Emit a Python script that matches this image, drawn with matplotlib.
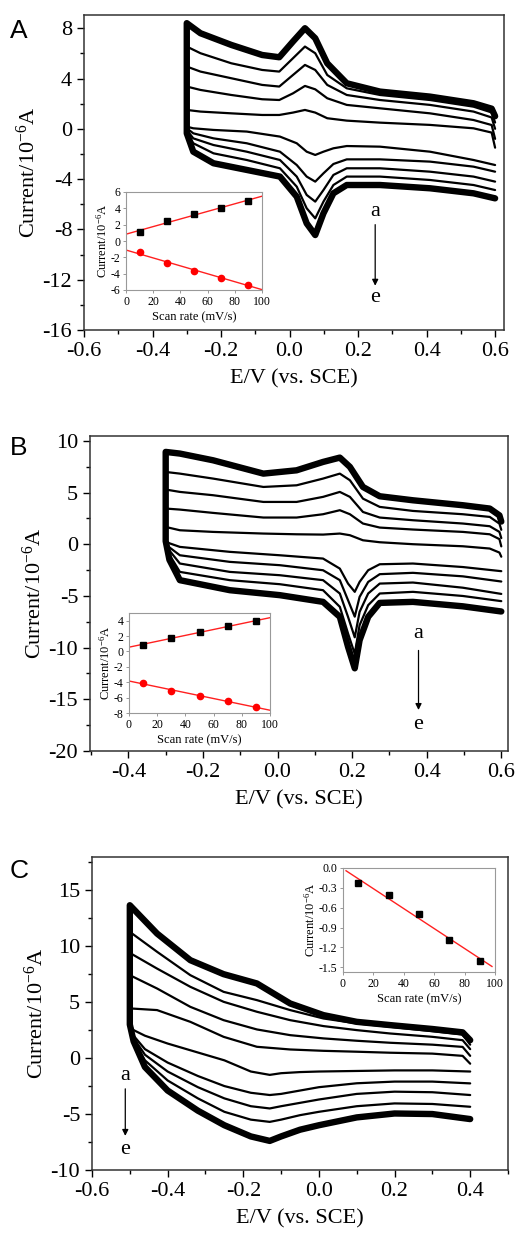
import numpy as np
import matplotlib
matplotlib.use("Agg")
import matplotlib.pyplot as plt
from matplotlib.ticker import MultipleLocator, FormatStrFormatter

plt.rcParams['font.family'] = ['Liberation Serif', 'DejaVu Serif']
plt.rcParams['axes.unicode_minus'] = False
plt.rcParams['mathtext.fontset'] = 'custom'
plt.rcParams['mathtext.rm'] = 'Liberation Serif'
plt.rcParams['mathtext.it'] = 'Liberation Serif:italic'

W, H = 517, 1239

# ---------------- Panel A: CV curves a..e (upper = anodic, lower = cathodic)
A_E_UP = [-0.30, -0.26, -0.17, -0.08, -0.03, 0.01, 0.045, 0.075, 0.11, 0.167, 0.264, 0.41, 0.537, 0.59, 0.60]
A_UP = [
    [1.50, 1.37, 1.23, 1.10, 1.10, 1.29, 1.50, 1.29, 0.84, 0.65, 0.49, 0.31, 0.04, -0.30, -1.50],
    [3.36, 3.09, 2.69, 2.35, 2.29, 2.82, 3.41, 3.14, 2.43, 1.90, 1.63, 1.23, 0.70, 0.30, -0.80],
    [4.95, 4.55, 4.02, 3.49, 3.36, 4.28, 5.08, 4.68, 3.49, 2.69, 2.29, 1.90, 1.37, 0.90, 0.00],
    [6.54, 6.01, 5.21, 4.68, 4.55, 5.61, 6.54, 6.01, 4.28, 3.22, 2.69, 2.29, 1.76, 1.30, 0.50],
    [8.40, 7.60, 6.67, 5.87, 5.69, 6.94, 8.00, 7.20, 5.21, 3.62, 2.96, 2.56, 2.03, 1.60, 1.00],
]
A_E_DN = [0.60, 0.537, 0.41, 0.264, 0.167, 0.128, 0.099, 0.075, 0.05, 0.021, -0.028, -0.125, -0.222, -0.281, -0.30]
A_DN = [
    [-2.88, -2.48, -1.82, -1.42, -1.37, -1.55, -1.82, -2.08, -1.82, -1.15, -0.62, -0.22, -0.09, 0.04, 0.17],
    [-3.41, -3.01, -2.61, -2.43, -2.43, -2.80, -3.54, -4.20, -3.80, -2.88, -1.82, -1.15, -0.76, -0.36, 0.04],
    [-4.20, -3.80, -3.41, -3.14, -3.14, -3.67, -4.87, -5.79, -5.26, -3.80, -2.48, -1.82, -1.29, -0.76, -0.09],
    [-4.87, -4.47, -4.07, -3.80, -3.80, -4.47, -5.79, -7.12, -6.32, -4.60, -3.14, -2.48, -1.95, -1.15, -0.22],
    [-5.53, -5.13, -4.73, -4.47, -4.47, -5.13, -6.72, -8.45, -7.52, -5.40, -3.80, -3.27, -2.74, -1.82, -0.36],
]

# ---------------- Panel B
B_E_UP = [-0.30, -0.262, -0.173, -0.038, 0.051, 0.122, 0.167, 0.194, 0.229, 0.274, 0.363, 0.497, 0.569, 0.595, 0.60]
B_UP = [
    [1.68, 1.36, 1.20, 1.04, 0.97, 0.94, 1.04, 0.88, 0.39, 0.20, 0.01, -0.19, -0.41, -0.80, -1.20],
    [3.46, 3.36, 3.04, 2.59, 2.59, 2.91, 3.30, 2.91, 2.01, 1.62, 1.43, 1.20, 0.97, 0.50, -0.20],
    [5.30, 5.07, 4.75, 4.10, 4.10, 4.59, 5.07, 4.59, 3.13, 2.59, 2.33, 2.01, 1.75, 1.20, 0.60],
    [7.00, 6.84, 6.36, 5.55, 5.71, 6.36, 6.84, 6.20, 4.42, 3.62, 3.23, 2.91, 2.65, 2.00, 1.40],
    [8.94, 8.78, 8.13, 6.84, 7.16, 7.97, 8.39, 7.49, 5.55, 4.65, 4.26, 3.78, 3.46, 2.80, 2.20],
]
B_E_DN = [0.60, 0.497, 0.363, 0.274, 0.243, 0.22, 0.207, 0.189, 0.167, 0.122, 0.006, -0.128, -0.262, -0.29, -0.30]
B_DN = [
    [-2.60, -2.20, -1.86, -1.93, -2.51, -3.64, -4.60, -3.80, -2.35, -1.38, -1.06, -0.73, -0.25, 0.10, 0.30],
    [-3.60, -3.10, -2.76, -2.89, -3.64, -5.09, -7.00, -5.41, -3.47, -2.51, -2.02, -1.70, -1.06, -0.30, 0.30],
    [-4.80, -4.20, -3.70, -3.80, -4.76, -6.54, -9.00, -7.02, -4.76, -3.47, -2.99, -2.67, -1.86, -0.60, 0.30],
    [-5.50, -5.00, -4.60, -4.76, -5.89, -7.83, -10.6, -8.63, -6.05, -4.44, -3.86, -3.47, -2.67, -1.00, 0.30],
    [-6.50, -6.00, -5.57, -5.67, -7.02, -9.28, -12.0, -9.92, -7.02, -5.57, -4.92, -4.44, -3.47, -1.50, 0.30],
]

# ---------------- Panel C
C_E_UP = [-0.50, -0.428, -0.34, -0.252, -0.164, -0.076, 0.012, 0.10, 0.188, 0.30, 0.38, 0.40]
C_UP = [
    [4.44, 4.29, 3.24, 1.90, 1.01, 0.77, 0.65, 0.57, 0.48, 0.40, 0.20, -0.50],
    [7.41, 6.22, 4.58, 3.39, 2.56, 2.05, 1.76, 1.55, 1.37, 1.20, 1.00, 0.20],
    [9.40, 8.00, 6.37, 5.03, 4.14, 3.39, 2.86, 2.50, 2.20, 1.90, 1.60, 0.80],
    [11.28, 9.50, 7.41, 5.92, 5.18, 4.29, 3.54, 3.10, 2.80, 2.40, 2.10, 1.20],
    [13.66, 11.13, 8.75, 7.50, 6.67, 4.88, 3.84, 3.24, 2.95, 2.60, 2.30, 1.60],
]
C_E_DN = [0.40, 0.30, 0.20, 0.10, 0.0, -0.05, -0.10, -0.13, -0.18, -0.25, -0.32, -0.40, -0.46, -0.49, -0.50]
C_DN = [
    [-1.20, -1.10, -1.10, -1.15, -1.20, -1.25, -1.35, -1.50, -1.20, -0.20, 0.50, 1.30, 2.00, 2.50, 3.00],
    [-2.26, -2.10, -2.10, -2.25, -2.60, -2.90, -3.20, -3.30, -3.10, -2.50, -1.60, -0.40, 0.80, 2.00, 3.00],
    [-3.30, -3.05, -3.00, -3.20, -3.70, -4.00, -4.30, -4.50, -4.30, -3.60, -2.60, -1.20, 0.30, 1.80, 3.00],
    [-4.35, -4.10, -4.05, -4.30, -4.80, -5.10, -5.50, -5.70, -5.50, -4.80, -3.60, -2.00, -0.20, 1.60, 3.00],
    [-5.45, -5.00, -4.95, -5.30, -6.00, -6.40, -7.00, -7.40, -7.00, -6.00, -4.70, -2.90, -0.80, 1.50, 3.00],
]

# ---------------- insets: peak current vs scan rate
RATE = [10, 30, 50, 70, 90]
A_IPA = [1.1, 2.4, 3.3, 4.1, 4.9]
A_IPC = [-1.4, -2.7, -3.7, -4.5, -5.35]
B_IPA = [0.88, 1.77, 2.48, 3.28, 3.96]
B_IPC = [-4.1, -5.1, -5.8, -6.5, -7.2]
C_IPC = [-0.23, -0.41, -0.70, -1.08, -1.40]


def px_axes(fig, l, r, t, b):
    return fig.add_axes([l / W, 1 - b / H, (r - l) / W, (b - t) / H])


def draw_cv(ax, e_up, ups, e_dn, dns):
    for k in range(5):
        x = list(e_dn) + list(e_up)
        y = list(dns[k]) + list(ups[k])
        lw = 4.6 if k == 4 else 1.6
        ax.plot(x, y, color='black', lw=lw, solid_joinstyle='round', solid_capstyle='round')


def style_main(ax, xlim, ylim, xmaj, ymaj, ymin):
    ax.set_xlim(*xlim)
    ax.set_ylim(*ylim)
    ax.xaxis.set_major_locator(MultipleLocator(xmaj))
    ax.xaxis.set_minor_locator(MultipleLocator(xmaj / 2))
    ax.yaxis.set_major_locator(MultipleLocator(ymaj))
    ax.yaxis.set_minor_locator(MultipleLocator(ymin))
    ax.xaxis.set_major_formatter(FormatStrFormatter('%.1f'))
    ax.tick_params(which='both', direction='out', labelsize=16, width=1.0)
    ax.tick_params(which='major', length=5)
    ax.tick_params(which='minor', length=3)
    for s in ax.spines.values():
        s.set_linewidth(1.1)
        s.set_color('#333333')
    ax.set_xlabel('E/V (vs. SCE)', fontsize=16, labelpad=6)
    ax.set_ylabel('Current/10$^{-6}$A', fontsize=16, labelpad=2)


def style_inset(ax, ylim, yticks, fmt):
    ax.set_xlim(0, 100)
    ax.set_ylim(*ylim)
    ax.set_xticks([0, 20, 40, 60, 80, 100])
    ax.set_yticks(yticks)
    ax.yaxis.set_major_formatter(FormatStrFormatter(fmt))
    ax.tick_params(labelsize=8.5, length=2.5, width=0.6, color='#888888', pad=1.5)
    for s in ax.spines.values():
        s.set_linewidth(0.8)
        s.set_color('#999999')
    ax.set_xlabel('Scan rate (mV/s)', fontsize=9, labelpad=3)
    ax.set_ylabel('Current/10$^{-6}$A', fontsize=9, labelpad=1)


def fit_line(ax, xs, ys, x0, x1):
    k, b = np.polyfit(xs, ys, 1)
    xx = np.array([x0, x1])
    ax.plot(xx, k * xx + b, color='#ff2020', lw=1.0, zorder=1)


fig = plt.figure(figsize=(W / 100, H / 100), dpi=100)

# ---- A
axA = px_axes(fig, 84, 504, 15, 330)
draw_cv(axA, A_E_UP, A_UP, A_E_DN, A_DN)
style_main(axA, (-0.6, 0.626), (-16, 9.05), 0.2, 4, 2)
axA.text(0.25, -6.6, 'a', fontsize=16, ha='center', va='center')
axA.annotate('', xy=(0.25, -12.7), xytext=(0.25, -7.4),
             arrowprops=dict(arrowstyle='-|>', color='black', lw=0.9, mutation_scale=9))
axA.text(0.25, -13.4, 'e', fontsize=16, ha='center', va='center')
fig.text(10 / W, 1 - 38 / H, 'A', fontsize=19, family='Liberation Sans')

insA = px_axes(fig, 126, 262, 192, 290)
fit_line(insA, RATE, A_IPA, 0, 100)
fit_line(insA, RATE, A_IPC, 0, 100)
insA.plot(RATE, A_IPA, 's', color='black', ms=4, zorder=3)
insA.plot(RATE, A_IPC, 'o', color='red', ms=4.5, zorder=3)
style_inset(insA, (-6, 6), [-6, -4, -2, 0, 2, 4, 6], '%d')

# ---- B
axB = px_axes(fig, 90, 508, 436, 751)
draw_cv(axB, B_E_UP, B_UP, B_E_DN, B_DN)
style_main(axB, (-0.503, 0.618), (-20, 10.48), 0.2, 5, 2.5)
axB.text(0.378, -8.6, 'a', fontsize=16, ha='center', va='center')
axB.annotate('', xy=(0.378, -16.3), xytext=(0.378, -10.0),
             arrowprops=dict(arrowstyle='-|>', color='black', lw=0.9, mutation_scale=9))
axB.text(0.378, -17.4, 'e', fontsize=16, ha='center', va='center')
fig.text(10 / W, 1 - 455 / H, 'B', fontsize=19, family='Liberation Sans')

insB = px_axes(fig, 129, 270, 613, 713)
fit_line(insB, RATE, B_IPA, 0, 100)
fit_line(insB, RATE, B_IPC, 0, 100)
insB.plot(RATE, B_IPA, 's', color='black', ms=4, zorder=3)
insB.plot(RATE, B_IPC, 'o', color='red', ms=4.5, zorder=3)
style_inset(insB, (-8, 5), [-8, -6, -4, -2, 0, 2, 4], '%d')

# ---- C
axC = px_axes(fig, 92, 508, 857, 1170)
draw_cv(axC, C_E_UP, C_UP, C_E_DN, C_DN)
style_main(axC, (-0.6, 0.5), (-10, 17.97), 0.2, 5, 2.5)
axC.text(-0.512, -1.6, 'a', fontsize=16, ha='center', va='center')
axC.annotate('', xy=(-0.512, -7.2), xytext=(-0.512, -2.5),
             arrowprops=dict(arrowstyle='-|>', color='black', lw=0.9, mutation_scale=9))
axC.text(-0.512, -8.2, 'e', fontsize=16, ha='center', va='center')
fig.text(10 / W, 1 - 878 / H, 'C', fontsize=19, family='Liberation Sans')

insC = px_axes(fig, 343, 495, 868, 972)
fit_line(insC, RATE, C_IPC, 2, 98)
insC.plot(RATE, C_IPC, 's', color='black', ms=4, zorder=3)
style_inset(insC, (-1.57, 0.0), [0.0, -0.3, -0.6, -0.9, -1.2, -1.5], '%.1f')

fig.savefig('out.png', dpi=100)
